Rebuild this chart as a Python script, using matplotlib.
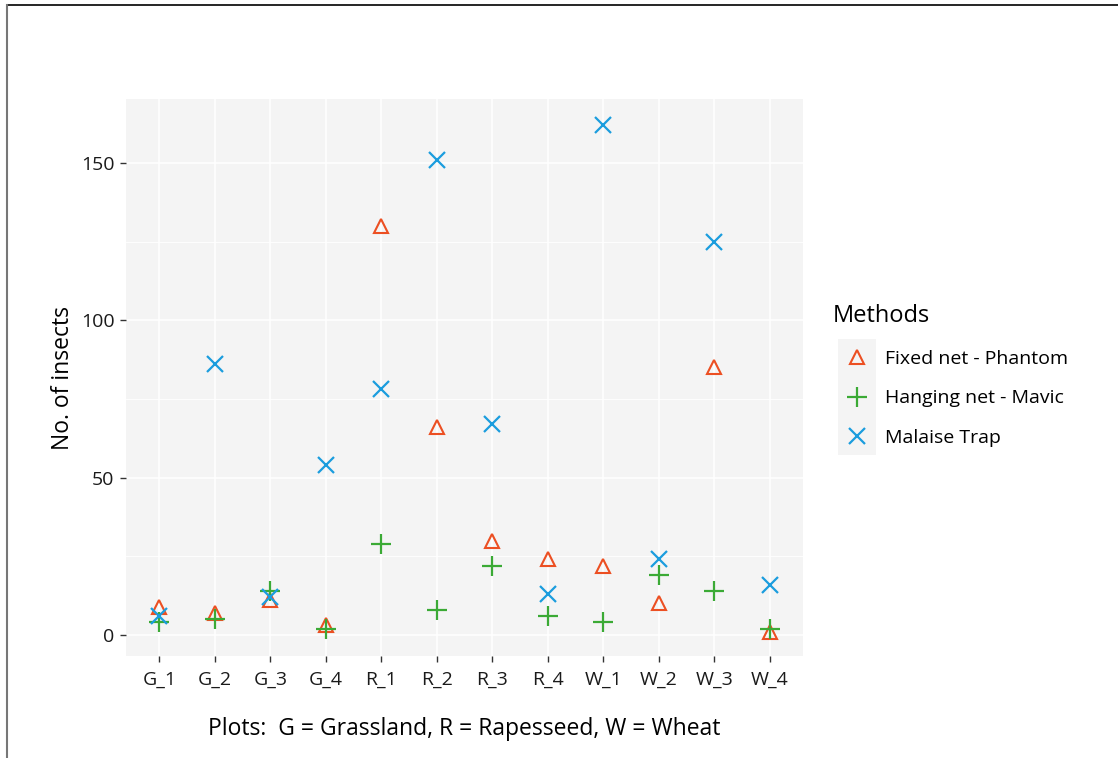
import matplotlib
matplotlib.use("Agg")
import matplotlib.pyplot as plt
from matplotlib.lines import Line2D
from matplotlib.patches import Rectangle

plt.rcParams['font.family'] = ['Open Sans', 'DejaVu Sans']

plots = ["G_1", "G_2", "G_3", "G_4", "R_1", "R_2", "R_3", "R_4", "W_1", "W_2", "W_3", "W_4"]
fixed_net = [9, 7, 11, 3, 130, 66, 30, 24, 22, 10, 85, 1]
hanging_net = [4, 5, 14, 2, 29, 8, 22, 6, 4, 19, 14, 2]
malaise = [6, 86, 12, 54, 78, 151, 67, 13, 162, 24, 125, 16]
methods = ["Fixed net - Phantom", "Hanging net - Mavic", "Malaise Trap"]

c_fixed = '#EC4F22'
c_hang = '#3BAA35'
c_mal = '#1B9DDE'

fig = plt.figure(figsize=(11.18, 7.58), dpi=100)
ax = fig.add_axes([126/1118, 102/758, 677/1118, 557/758])
ax.set_facecolor('#F4F4F4')

x = list(range(1, len(plots) + 1))
ax.plot(x, fixed_net, ls='none', marker='^', ms=10.5, mfc='none', mec=c_fixed, mew=1.5, label=methods[0], zorder=3)
ax.plot(x, hanging_net, ls='none', marker='+', ms=15, mec=c_hang, mew=1.6, label=methods[1], zorder=3)
ax.plot(x, malaise, ls='none', marker='x', ms=11, mec=c_mal, mew=1.6, label=methods[2], zorder=3)

ax.set_xlim(0.4, 12.6)
ax.set_ylim(-6.7, 170.3)
ax.set_xticks(x)
ax.set_xticklabels(plots)
ax.set_yticks([0, 50, 100, 150])
ax.set_yticks([25, 75, 125], minor=True)
ax.grid(True, which='major', color='white', lw=1.1)
ax.grid(True, which='minor', axis='y', color='white', lw=0.6)
ax.set_axisbelow(True)
for s in ax.spines.values():
    s.set_visible(False)
ax.tick_params(which='major', length=4.3, width=1, color='#333333', labelsize=14, labelcolor='#1a1a1a', pad=4)
ax.tick_params(axis='x', pad=6)
ax.tick_params(which='minor', length=0)

ax.set_ylabel("No. of insects", fontsize=16.5, labelpad=4)
ax.set_xlabel("Plots:  G = Grassland, R = Rapesseed, W = Wheat", fontsize=16.5, labelpad=21)

# legend: title, key background, entries
fig.text(833/1118, 1 - 316/758, "Methods", fontsize=17, va='center', ha='left')
fig.add_artist(Rectangle((838/1118, (758-455)/758), 38/1118, 116/758,
                         transform=fig.transFigure, facecolor='#F4F4F4', edgecolor='none'))
handles, labels = ax.get_legend_handles_labels()
leg = fig.legend(handles, labels, loc='upper left',
                 bbox_to_anchor=(842/1118, (758-350)/758), frameon=False,
                 borderpad=0, borderaxespad=0,
                 fontsize=14, handlelength=1.5,
                 handletextpad=0.72, labelspacing=1.1)

# outer border (top and left)
fig.add_artist(Line2D([7/1118, 1], [1 - 5/758, 1 - 5/758], transform=fig.transFigure, color='black', lw=1.2))
fig.add_artist(Line2D([7/1118, 7/1118], [0, 1 - 5/758], transform=fig.transFigure, color='#777777', lw=1.5))

fig.savefig("out.png", dpi=100)
